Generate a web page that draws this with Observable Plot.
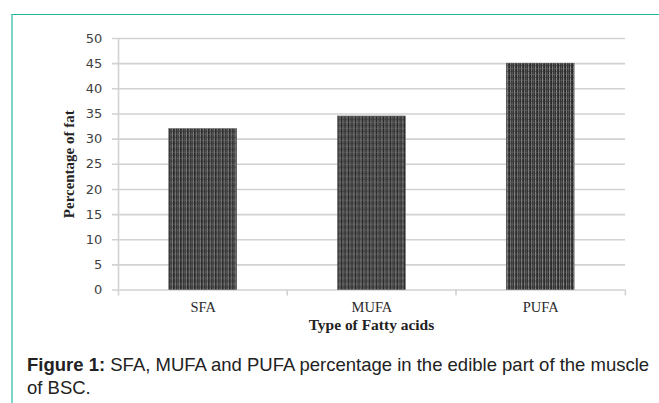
<!DOCTYPE html>
<html>
<head>
<meta charset="utf-8">
<script src="https://cdn.jsdelivr.net/npm/d3@7"></script>
<script src="https://cdn.jsdelivr.net/npm/@observablehq/plot@0.6"></script>
<style>
  html, body { margin: 0; padding: 0; background: #fff; }
  body { width: 659px; height: 403px; overflow: hidden; position: relative; }
  #frame {
    position: absolute; left: 11px; top: 14px; right: 0; bottom: 0;
    border-top: 1px solid #1db59d; border-left: 2px solid #7dd6ca;
  }
  #chart { position: absolute; left: 0; top: 0; }
  #cap {
    position: absolute; left: 14px; top: 338px; width: 640px;
    font-family: "Liberation Sans", Arial, sans-serif; font-size: 18.5px; line-height: 23px; color: #222;
  }
  #cap .line { white-space: nowrap; }
  #cap .lead { font-weight: bold; }
</style>
</head>
<body>
<div id="frame">
  <div id="chart"></div>
  <div id="cap">
    <div class="line"><span class="lead">Figure 1:</span><span> SFA, MUFA and PUFA percentage in the edible part of the muscle</span></div>
    <div class="line"><span>of BSC.</span></div>
  </div>
</div>
<script>
const categories = ["SFA", "MUFA", "PUFA"];
const values = [32, 34.5, 45];
const yTicks = [0, 5, 10, 15, 20, 25, 30, 35, 40, 45, 50];
const yLabel = "Percentage of fat";
const xLabel = "Type of Fatty acids";

const data = categories.map((c, i) => ({cat: c, val: values[i]}));

const W = 647, H = 336, mL = 104, mR = 34, mT = 23, mB = 61;
const step = (W - mL - mR) / categories.length;
const grid = "#d2d2d2";

const plot = Plot.plot({
  width: W, height: H,
  marginLeft: mL, marginRight: mR, marginTop: mT, marginBottom: mB,
  x: {domain: categories, paddingInner: 0.6, paddingOuter: 0.3, label: null, axis: null},
  y: {domain: [0, 50], label: null, axis: null},
  marks: [
    Plot.ruleY(yTicks, {stroke: grid, strokeWidth: 1.6, insetLeft: -5}),
    Plot.ruleX([categories[0]], {x: d => d, dx: -step / 2, y1: 0, y2: 50, stroke: grid, strokeWidth: 1.6}),
    Plot.ruleX(categories, {x: d => d, dx: -step / 2, y1: 0, y2: 0, insetBottom: -6, stroke: grid, strokeWidth: 1.6}),
    Plot.ruleX([categories[categories.length - 1]], {x: d => d, dx: step / 2, y1: 0, y2: 0, insetBottom: -6, stroke: grid, strokeWidth: 1.6}),
    Plot.barY(data, {x: "cat", y: "val", fill: "url(#bscPattern)", stroke: "#555", strokeWidth: 0.5}),
    Plot.axisY({ticks: yTicks, tickSize: 0, tickPadding: 15, fill: "#404040", fontSize: 13,
      fontFamily: "'DejaVu Sans', sans-serif", label: null}),
    Plot.axisX({tickSize: 0, tickPadding: 12, fill: "#2a2a2a", fontSize: 14.5,
      fontFamily: "'Liberation Serif', serif", label: null}),
    Plot.text([yLabel], {text: d => d, frameAnchor: "left", textAnchor: "middle", rotate: -90, dx: -48,
      fontFamily: "'Liberation Serif', serif", fontWeight: "bold", fontSize: 15, fill: "#222"}),
    Plot.text([xLabel], {text: d => d, frameAnchor: "bottom", dy: 40,
      fontFamily: "'Liberation Serif', serif", fontWeight: "bold", fontSize: 15.5, fill: "#222"})
  ]
});

// texture for the bars
const ns = "http://www.w3.org/2000/svg";
const defs = document.createElementNS(ns, "defs");
defs.innerHTML = `
<pattern id="bscPattern" patternUnits="userSpaceOnUse" width="7" height="6">
  <rect width="7" height="6" fill="#262626"/>
  <rect x="1" width="1" height="6" fill="#8a8a8a"/>
  <rect x="3" width="1" height="6" fill="#5a5a5a"/>
  <rect x="5" width="1" height="6" fill="#9a9a9a"/>
  <rect y="2" width="7" height="1" fill="#3a3a3a" opacity="0.7"/>
  <rect y="5" width="7" height="1" fill="#6a6a6a" opacity="0.5"/>
</pattern>`;
plot.insertBefore(defs, plot.firstChild);
document.getElementById("chart").appendChild(plot);
</script>
</body>
</html>
